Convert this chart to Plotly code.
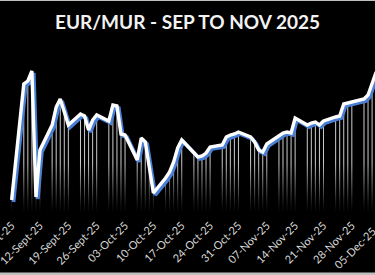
import pandas as pd
import plotly.graph_objects as go

# ---- data ----
dates = pd.bdate_range("2025-09-05", "2025-12-04")
rates = [
    53.10,
    54.26, 54.29, 54.39, 53.13, 53.60,
    53.85, 54.03, 54.11, 53.98, 53.85,
    53.96, 53.94, 53.80, 53.90, 53.95,
    53.89, 54.05, 54.04, 53.76, 53.75,
    53.50, 53.72, 53.68, 53.40, 53.17,
    53.32, 53.38, 53.48, 53.62, 53.70,
    53.57, 53.53, 53.54, 53.57, 53.63,
    53.65, 53.73, 53.75, 53.76, 53.78,
    53.73, 53.68, 53.60, 53.58, 53.66,
    53.75, 53.77, 53.78, 53.77, 53.92,
    53.85, 53.87, 53.88, 53.85, 53.89,
    53.93, 53.94, 54.06, 54.07, 54.08,
    54.11, 54.15, 54.26, 54.38,
]
tick_dates = ["2025-09-05", "2025-09-12", "2025-09-19", "2025-09-26", "2025-10-03",
              "2025-10-10", "2025-10-17", "2025-10-24", "2025-10-31", "2025-11-07",
              "2025-11-14", "2025-11-21", "2025-11-28"]
tick_text = ["05-Sept-25", "12-Sept-25", "19-Sept-25", "26-Sept-25", "03-Oct-25",
             "10-Oct-25", "17-Oct-25", "24-Oct-25", "31-Oct-25", "07-Nov-25",
             "14-Nov-25", "21-Nov-25", "28-Nov-25"]
title = "EUR/MUR - SEP TO NOV 2025"

Y_MIN, Y_MAX = 52.98, 54.70
X_RANGE = ["2025-09-02 03:00", "2025-12-03 17:15"]

fig = go.Figure()

# drop lines
dx, dy = [], []
for d, v in zip(dates, rates):
    dx += [d, d, None]
    dy += [v, Y_MIN, None]
fig.add_trace(go.Scatter(x=dx, y=dy, mode="lines",
                         line=dict(color="rgba(240,240,240,0.85)", width=1),
                         hoverinfo="skip", showlegend=False))

# fade overlay at bottom
x0 = pd.Timestamp(X_RANGE[0]) - pd.Timedelta(days=2)
x1 = pd.Timestamp(X_RANGE[1]) + pd.Timedelta(days=2)
fade_top = 53.47
fig.add_trace(go.Scatter(
    x=[x0, x1, x1, x0, x0], y=[Y_MIN - 0.05, Y_MIN - 0.05, fade_top, fade_top, Y_MIN - 0.05],
    mode="lines", line=dict(width=0), fill="toself",
    fillgradient=dict(type="vertical", start=Y_MIN, stop=fade_top,
                      colorscale=[[0, "rgba(0,0,0,1)"], [0.2, "rgba(0,0,0,0.85)"],
                                  [1, "rgba(0,0,0,0)"]]),
    hoverinfo="skip", showlegend=False))

# blue shadow (offset by ~2 px)
shift_t = pd.Timedelta(hours=11)
fig.add_trace(go.Scatter(x=[d + shift_t for d in dates], y=[v - 0.02 for v in rates],
                         mode="lines", line=dict(color="#4A7FD6", width=3.8),
                         hoverinfo="skip", showlegend=False))
# main line
fig.add_trace(go.Scatter(x=dates, y=rates, mode="lines",
                         line=dict(color="white", width=3.4),
                         showlegend=False))

fig.add_annotation(text=title, xref="paper", yref="paper", x=0.5, y=1.0,
                   yanchor="middle", yshift=19, showarrow=False,
                   font=dict(family="Lato", size=19, color="#f2f2f2", weight="bold"))

fig.add_annotation(text="05-Dec-25", xref="paper", yref="paper", x=1.016, y=0,
                   xanchor="right", yanchor="top", yshift=-9, textangle=-45,
                   showarrow=False, font=dict(family="Lato", size=11, color="#d9d9d9"))

# border lines (top/bottom grey)
fig.add_shape(type="line", xref="paper", yref="paper", x0=-0.1, x1=1.1,
              y0=1 + 39.5 / 172, y1=1 + 39.5 / 172, line=dict(color="#bfbfbf", width=1))
fig.add_shape(type="line", xref="paper", yref="paper", x0=-0.1, x1=1.1,
              y0=-62 / 172, y1=-62 / 172, line=dict(color="#bfbfbf", width=3))

fig.update_layout(
    width=375, height=275,
    margin=dict(l=0, r=0, t=40, b=63),
    paper_bgcolor="black", plot_bgcolor="black",
    xaxis=dict(type="date", range=X_RANGE, tickvals=tick_dates, ticktext=tick_text,
               tickangle=-45, showgrid=False, zeroline=False, showline=False,
               ticks="", automargin=False, ticklabeloverflow="allow",
               ticklabelstandoff=4,
               tickfont=dict(family="Lato", size=11, color="#d9d9d9")),
    yaxis=dict(range=[Y_MIN, Y_MAX], visible=False, showgrid=False),
    showlegend=False,
)

fig.write_html("out.html")
